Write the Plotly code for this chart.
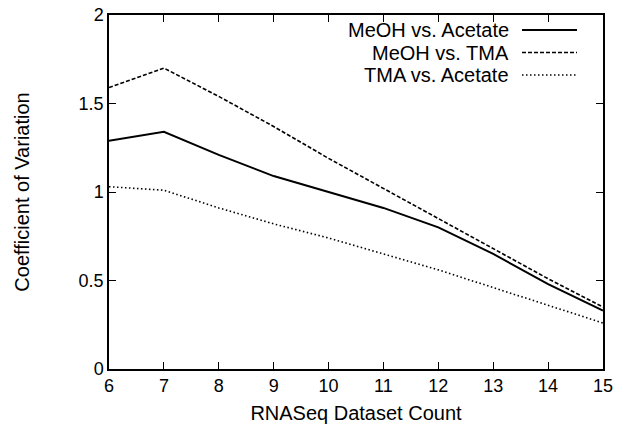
import plotly.graph_objects as go

dataset_count = [6, 7, 8, 9, 10, 11, 12, 13, 14, 15]
meoh_vs_acetate = [1.29, 1.34, 1.21, 1.09, 1.00, 0.91, 0.80, 0.65, 0.48, 0.33]
meoh_vs_tma = [1.59, 1.70, 1.54, 1.37, 1.19, 1.02, 0.85, 0.68, 0.51, 0.35]
tma_vs_acetate = [1.03, 1.01, 0.91, 0.82, 0.74, 0.65, 0.56, 0.46, 0.36, 0.26]

series_names = ["MeOH vs. Acetate", "MeOH vs. TMA", "TMA vs. Acetate"]
series_values = [meoh_vs_acetate, meoh_vs_tma, tma_vs_acetate]
dashes = ["solid", "4px,2px", "1.5px,2.5px"]
widths = [2, 1.6, 1.6]

x_ticks = [6, 7, 8, 9, 10, 11, 12, 13, 14, 15]
y_ticks = [0, 0.5, 1, 1.5, 2]
y_tick_labels = ["0", "0.5", "1", "1.5", "2"]

FONT = "Liberation Sans, Arial, Helvetica, sans-serif"

W, H = 618, 433
ML, MR, MT, MB = 109, 15, 15, 64
PX0, PX1, PY0, PY1 = 109, 603, 15, 369  # plot area in window pixels

fig = go.Figure()
for name, vals, d, w in zip(series_names, series_values, dashes, widths):
    fig.add_trace(go.Scatter(x=dataset_count, y=vals, mode="lines", name=name,
                             line=dict(color="black", width=w, dash=d),
                             showlegend=False))

# Manual gnuplot-style legend (text right-aligned, sample to the right)
legend_rows_y = [30, 52.5, 75]
annotations = []
shapes = []
for name, d, w, yy in zip(series_names, dashes, widths, legend_rows_y):
    yp = (PY1 - yy) / (PY1 - PY0)
    annotations.append(dict(xref="paper", yref="paper",
                            x=(511 - PX0) / (PX1 - PX0), y=yp,
                            xanchor="right", yanchor="middle", showarrow=False,
                            text=name, font=dict(family=FONT, size=20, color="black")))
    shapes.append(dict(type="line", xref="paper", yref="paper",
                       x0=(522 - PX0) / (PX1 - PX0), x1=(577 - PX0) / (PX1 - PX0),
                       y0=yp, y1=yp,
                       line=dict(color="black", width=w, dash=d)))

axis_common = dict(showline=True, linecolor="black", linewidth=1.5, mirror="ticks",
                   ticks="inside", ticklen=7, tickcolor="black", tickwidth=1,
                   showgrid=False, zeroline=False, ticklabeloverflow="allow",
                   tickfont=dict(family=FONT, size=18, color="black"))

fig.update_layout(
    width=W, height=H,
    margin=dict(l=ML, r=MR, t=MT, b=MB, autoexpand=False),
    paper_bgcolor="white", plot_bgcolor="white",
    font=dict(family=FONT, size=18, color="black"),
    xaxis=dict(range=[6, 15], tickvals=x_ticks,
               title=dict(text="RNASeq Dataset Count", standoff=11,
                          font=dict(family=FONT, size=20)), **axis_common),
    yaxis=dict(range=[0, 2], tickvals=y_ticks, ticktext=y_tick_labels,
               title=dict(text="Coefficient of Variation", standoff=44,
                          font=dict(family=FONT, size=20)), **axis_common),
    annotations=annotations, shapes=shapes,
)

fig.write_html("out.html", config={"displayModeBar": False},
               post_script="document.body.style.margin='0';")
